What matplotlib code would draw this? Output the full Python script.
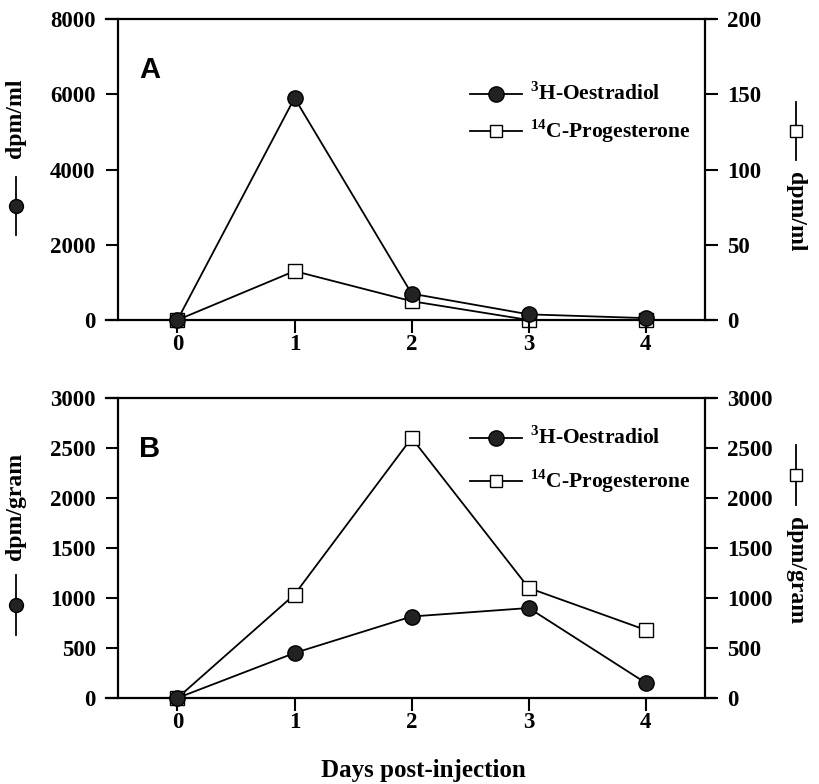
import matplotlib
matplotlib.use("Agg")
import matplotlib.pyplot as plt
from matplotlib.lines import Line2D

plt.rcParams['font.family'] = 'Liberation Serif'
plt.rcParams['font.weight'] = 'bold'
plt.rcParams['mathtext.fontset'] = 'custom'
plt.rcParams['mathtext.rm'] = 'Liberation Serif:bold'
plt.rcParams['mathtext.bf'] = 'Liberation Serif:bold'

days = [0, 1, 2, 3, 4]
xtick_labels = ["0", "1", "2", "3", "4"]

# Panel A (plasma, dpm/ml)
a_oestradiol = [0, 5900, 700, 150, 50]
a_progesterone = [0, 32.5, 12.5, 0, 0]
a_left_ticks = [0, 2000, 4000, 6000, 8000]
a_right_ticks = [0, 50, 100, 150, 200]

# Panel B (tissue, dpm/gram)
b_oestradiol = [0, 450, 815, 900, 150]
b_progesterone = [0, 1035, 2600, 1100, 680]
b_ticks = [0, 500, 1000, 1500, 2000, 2500, 3000]

lab_oe = r"$^{3}$H-Oestradiol"
lab_pr = r"$^{14}$C-Progesterone"

W, H = 820, 784
fig = plt.figure(figsize=(8.2, 7.84), dpi=100)

XL, XR = -0.61, 4.59
SP_L, SP_R = -0.508, 4.505
tick_fs = 16.5
lw = 1.3


def make_panel(top_px, bot_px, oe, pr, lticks, rticks, lmax, rmax, letter, leg_y):
    ax = fig.add_axes([106 / W, 1 - bot_px / H, (715 - 106) / W, (bot_px - top_px) / H])
    ax2 = ax.twinx()
    ax.set_xlim(XL, XR)
    ax.set_ylim(0, lmax)
    ax2.set_ylim(0, rmax)
    for s in ['top', 'bottom']:
        ax.spines[s].set_linewidth(1.6)
    ax.spines['left'].set_position(('data', SP_L))
    ax.spines['left'].set_linewidth(1.6)
    ax.spines['right'].set_visible(False)
    for s in ['top', 'bottom', 'left']:
        ax2.spines[s].set_visible(False)
    ax2.spines['right'].set_position(('data', SP_R))
    ax2.spines['right'].set_linewidth(1.6)

    ax.set_xticks(days)
    ax.set_xticklabels(xtick_labels)
    ax.set_yticks(lticks)
    ax.set_yticklabels([str(v) for v in lticks])
    ax2.set_yticks(rticks)
    ax2.set_yticklabels([str(v) for v in rticks])
    ax.tick_params(axis='y', direction='out', length=9, width=1.5,
                   labelsize=tick_fs, pad=7)
    ax.tick_params(axis='x', direction='out', length=9, width=1.5,
                   labelsize=tick_fs, pad=1)
    ax2.tick_params(axis='y', direction='out', length=9, width=1.5,
                    labelsize=tick_fs, pad=7)

    ax2.plot(days, pr, color='black', lw=lw, marker='s', markersize=10,
             markerfacecolor='white', markeredgecolor='black', markeredgewidth=1.0,
             clip_on=False, zorder=3)
    ax.plot(days, oe, color='black', lw=lw, marker='o', markersize=11,
            markerfacecolor='#222222', markeredgecolor='black',
            clip_on=False, zorder=4)
    ax.set_zorder(ax2.get_zorder() + 1)
    ax.patch.set_visible(False)

    ax.text(0.055, 0.83, letter, transform=ax.transAxes, fontsize=21,
            fontweight='bold', family='Liberation Sans', va='center', ha='left')

    for i, (lab, mk, fc) in enumerate([(lab_oe, 'o', '#222222'), (lab_pr, 's', 'white')]):
        y = leg_y[i]
        yf = 1 - y / H
        fig.add_artist(Line2D([470 / W, 522 / W], [yf, yf], color='black', lw=lw,
                              transform=fig.transFigure))
        fig.add_artist(Line2D([496 / W], [yf], marker=mk, markersize=11 if mk == 'o' else 9,
                              markerfacecolor=fc, markeredgecolor='black',
                              markeredgewidth=1.0, transform=fig.transFigure))
        fig.text(530 / W, yf, lab, fontsize=15.5, fontweight='bold',
                 va='center', ha='left')
    return ax, ax2


make_panel(19, 320, a_oestradiol, a_progesterone, a_left_ticks, a_right_ticks,
           8000, 200, "A", [94, 131])
make_panel(398, 698, b_oestradiol, b_progesterone, b_ticks, b_ticks,
           3000, 3000, "B", [438, 481])


def side_label(x, text_c, sym_c, sym_len, text, marker, rot, fc):
    fig.text(x / W, 1 - text_c / H, text, rotation=rot, fontsize=17,
             fontweight='bold', ha='center', va='center')
    xf = x / W
    fig.add_artist(Line2D([xf, xf], [1 - (sym_c - sym_len / 2) / H, 1 - (sym_c + sym_len / 2) / H],
                          color='black', lw=1.3, transform=fig.transFigure))
    fig.add_artist(Line2D([xf], [1 - sym_c / H], marker=marker,
                          markersize=10 if marker == 'o' else 9,
                          markerfacecolor=fc, markeredgecolor='black',
                          markeredgewidth=1.0, transform=fig.transFigure))


side_label(16, 118, 206, 58, "dpm/ml", 'o', 90, '#222222')
side_label(796, 212, 131, 58, "dpm/ml", 's', -90, 'white')
side_label(16, 506, 605, 60, "dpm/gram", 'o', 90, '#222222')
side_label(796, 571, 475, 60, "dpm/gram", 's', -90, 'white')

fig.text(423 / W, 1 - 771 / H, "Days post-injection", fontsize=18,
         fontweight='bold', ha='center', va='center')

fig.savefig("out.png", dpi=100)
